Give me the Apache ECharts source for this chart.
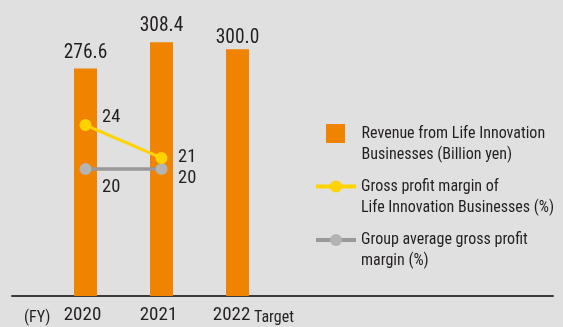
<!DOCTYPE html>
<html>
<head>
<meta charset="utf-8">
<script src="https://cdn.jsdelivr.net/npm/echarts@6/dist/echarts.min.js"></script>
<style>
  html, body { margin: 0; padding: 0; background: #e0e0e0; }
  #chart { width: 563px; height: 327px; }
</style>
</head>
<body>
<div id="chart"></div>
<script>
// Fiscal years and values
const years = ['2020', '2021', '2022'];
const targetYear = '2022';
const revenue = [276.6, 308.4, 300.0];          // Billion yen
const lifeMargin = [24, 21];                    // %
const groupMargin = [20, 20];                   // %

const revenueName = 'Revenue from Life Innovation Businesses (Billion yen)';
const lifeName = 'Gross profit margin of Life Innovation Businesses (%)';
const groupName = 'Group average gross profit margin (%)';
const legendText = {};
legendText[revenueName] = ['Revenue from Life Innovation', 'Businesses (Billion yen)'];
legendText[lifeName] = ['Gross profit margin of', 'Life Innovation Businesses (%)'];
legendText[groupName] = ['Group average gross profit', 'margin (%)'];

// Styling
const FONT = "'Roboto Condensed', 'Liberation Sans Narrow', sans-serif";
const INK = '#231f20';
const ORANGE = '#f08300';
const YELLOW = '#ffd300';
const GREY_DOT = '#b4b4b4';
const GREY_LINE = '#999999';
const barLabelDistance = [5.5, 6.5, 1];
const lifeLabelOffset = [[0, -8], [0, -1]];
const groupLabelOffset = [[0, 18.5], [0, 9.5]];

const yearNum = years.map(Number);

const barData = revenue.map((v, i) => ({
  value: [yearNum[i], v],
  label: { distance: barLabelDistance[i] }
}));
const lifeData = lifeMargin.map((v, i) => ({
  value: [yearNum[i], v],
  label: { offset: lifeLabelOffset[i] }
}));
const groupData = groupMargin.map((v, i) => ({
  value: [yearNum[i], v],
  label: { offset: groupLabelOffset[i] }
}));

const lineLabel = {
  show: true,
  position: 'right',
  distance: 10.5,
  fontFamily: FONT,
  fontSize: 18.5,
  color: INK,
  formatter: p => String(p.value[1])
};

// Each legend entry keeps its icon level with the first line of its text:
// a blank line above balances the second line below.
function legendFor(name, top, opts) {
  return Object.assign({
    data: [name],
    orient: 'vertical',
    left: 314,
    top: top,
    padding: 0,
    selectedMode: false,
    itemWidth: 40,
    itemHeight: 15,
    lineStyle: { width: 4 },
    formatter: n => '\n' + legendText[n].join('\n'),
    textStyle: {
      fontFamily: FONT,
      fontSize: 16,
      lineHeight: 21,
      color: INK
    }
  }, opts || {});
}

const chart = echarts.init(document.getElementById('chart'), null, { renderer: 'canvas' });

chart.setOption({
  backgroundColor: '#e0e0e0',
  animation: false,
  textStyle: { fontFamily: FONT },
  grid: { left: 12, right: 10, top: 8, bottom: 31 },
  xAxis: {
    type: 'value',
    min: 2019.033,
    max: 2026.151,
    splitLine: { show: false },
    axisTick: { show: false },
    axisLine: { show: true, onZero: false, lineStyle: { color: '#3a3a3a', width: 2 } },
    axisLabel: {
      customValues: yearNum,
      margin: 9.5,
      padding: [0, 6, 0, 0],
      formatter: v => String(v) === targetYear ? '{yr|' + v + '}{sp|}' : '{yr|' + v + '}',
      rich: {
        yr: { fontFamily: FONT, fontSize: 19, color: INK },
        sp: { width: 6 }
      }
    }
  },
  yAxis: [
    { type: 'value', min: 0, max: 350, show: false, splitLine: { show: false } },
    { type: 'value', min: 8.45, max: 34.64, show: false, splitLine: { show: false } }
  ],
  legend: [
    legendFor(revenueName, 102, { icon: 'path://M0 0H10V10H0Z', itemWidth: 42, itemHeight: 19, left: 326 }),
    legendFor(lifeName, 155),
    legendFor(groupName, 208.5)
  ],
  graphic: [
    {
      type: 'text',
      left: 24,
      top: 309.5,
      style: { text: '(FY)', font: "16px 'Roboto Condensed', sans-serif", fill: INK }
    },
    {
      type: 'text',
      left: 254,
      top: 309.5,
      style: { text: 'Target', font: "16px 'Roboto Condensed', sans-serif", fill: INK }
    }
  ],
  series: [
    {
      name: revenueName,
      type: 'bar',
      yAxisIndex: 0,
      barWidth: 23,
      itemStyle: { color: ORANGE },
      label: {
        show: true,
        position: 'top',
        fontFamily: FONT,
        fontSize: 19.5,
        color: INK,
        formatter: p => p.value[1].toFixed(1)
      },
      data: barData
    },
    {
      name: groupName,
      type: 'line',
      yAxisIndex: 1,
      symbol: 'circle',
      symbolSize: 12,
      lineStyle: { color: GREY_LINE, width: 3.5 },
      itemStyle: { color: GREY_DOT },
      label: lineLabel,
      data: groupData,
      z: 3
    },
    {
      name: lifeName,
      type: 'line',
      yAxisIndex: 1,
      symbol: 'circle',
      symbolSize: 12,
      lineStyle: { color: YELLOW, width: 3 },
      itemStyle: { color: YELLOW },
      label: lineLabel,
      data: lifeData,
      z: 4
    }
  ]
});
</script>
</body>
</html>
